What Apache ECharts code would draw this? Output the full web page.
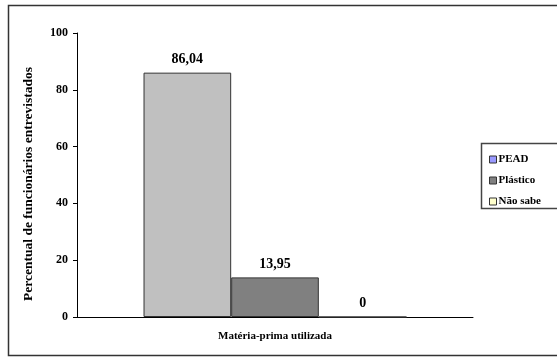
<!DOCTYPE html>
<html>
<head>
<meta charset="utf-8">
<script src="https://cdn.jsdelivr.net/npm/echarts@6/dist/echarts.min.js"></script>
<style>
  html, body { margin: 0; padding: 0; background: #ffffff; }
  #chart { width: 557px; height: 362px; }
</style>
</head>
<body>
<div id="chart"></div>
<script>
// Categories, series and values
const categories = ['Matéria-prima utilizada'];
const seriesNames = ['PEAD', 'Plástico', 'Não sabe'];
const peadValues = [86.04];
const plasticoValues = [13.95];
const naoSabeValues = [0];
const yTicks = [0, 20, 40, 60, 80, 100];

const FONT = '"Liberation Serif", "Times New Roman", serif';
const fmt = v => String(v).replace('.', ',');

const chart = echarts.init(document.getElementById('chart'), null, { renderer: 'canvas' });

const barFills = ['#c0c0c0', '#808080', '#ffffcc'];
const legendFills = ['#9999ff', '#808080', '#ffffcc'];
const valueSets = [peadValues, plasticoValues, naoSabeValues];

chart.setOption({
  animation: false,
  backgroundColor: '#ffffff',
  textStyle: { fontFamily: FONT },
  graphic: [
    {
      // outer chart frame
      type: 'rect', z: -10,
      shape: { x: 8.5, y: 5.5, width: 600, height: 350 },
      style: { fill: 'none', stroke: '#333333', lineWidth: 1.5 }
    },
    {
      // legend box
      type: 'rect', z: -5,
      shape: { x: 481.5, y: 143.5, width: 120, height: 65 },
      style: { fill: '#ffffff', stroke: '#444444', lineWidth: 1.5 }
    }
  ],
  grid: { left: 77, right: 84, top: 33, bottom: 45 },
  legend: {
    orient: 'vertical',
    left: 484, top: 149,
    itemWidth: 7, itemHeight: 7, itemGap: 10,
    icon: 'rect',
    data: seriesNames.map((n, i) => ({
      name: n,
      itemStyle: { color: legendFills[i], borderColor: '#333333', borderWidth: 1 }
    })),
    textStyle: { fontFamily: FONT, fontWeight: 'bold', fontSize: 11, color: '#000000', padding: [0, 0, 0, -3] }
  },
  xAxis: {
    type: 'category',
    data: categories,
    axisLine: { lineStyle: { color: '#000000', width: 1 } },
    axisTick: { show: false },
    axisLabel: { fontFamily: FONT, fontWeight: 'bold', fontSize: 11, color: '#000000', margin: 14 }
  },
  yAxis: {
    type: 'value',
    min: yTicks[0], max: yTicks[yTicks.length - 1], interval: 20,
    name: 'Percentual de funcionários entrevistados',
    nameLocation: 'middle', nameGap: 41, nameRotate: 90,
    nameTextStyle: { fontFamily: FONT, fontWeight: 'bold', fontSize: 13.5, color: '#000000', padding: [0, 18, 0, 0] },
    axisLine: { show: true, lineStyle: { color: '#000000', width: 1 } },
    axisTick: { show: true, length: 4, lineStyle: { color: '#000000' } },
    axisLabel: { fontFamily: FONT, fontWeight: 'bold', fontSize: 12, color: '#000000', margin: 9 },
    splitLine: { show: false }
  },
  series: seriesNames.map((n, i) => ({
    name: n,
    type: 'bar',
    data: valueSets[i],
    barGap: '0%',
    barCategoryGap: '33.6%',
    itemStyle: { color: barFills[i], borderColor: '#333333', borderWidth: 1 },
    label: {
      show: true, position: 'top', distance: 6,
      formatter: p => fmt(p.value),
      fontFamily: FONT, fontWeight: 'bold', fontSize: 14, color: '#000000'
    }
  }))
});
</script>
</body>
</html>
